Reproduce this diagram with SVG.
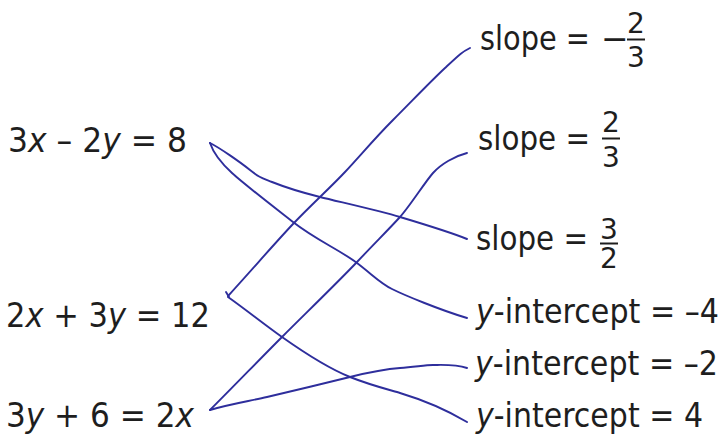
<svg xmlns="http://www.w3.org/2000/svg" width="724" height="434" viewBox="0 0 724 434">
<style>
text{font-family:"DejaVu Sans","Verdana",sans-serif;fill:#1e1e1e;font-size:33px}
.i{font-style:italic}
.f{font-size:28px;text-anchor:middle}
.bar{stroke:#1e1e1e;stroke-width:2}
.ink{fill:none;stroke:#2e2e9c;stroke-width:1.9;stroke-linecap:round;stroke-linejoin:round}
</style>
<rect width="724" height="434" fill="#fff"/>
<g id="eq1"><text x="8" y="152" textLength="179" lengthAdjust="spacingAndGlyphs">3<tspan class="i">x</tspan> – 2<tspan class="i">y</tspan> = 8</text></g>
<g id="eq2"><text x="6" y="327" textLength="204" lengthAdjust="spacingAndGlyphs">2<tspan class="i">x</tspan> + 3<tspan class="i">y</tspan> = 12</text></g>
<g id="eq3"><text x="6" y="427" textLength="188" lengthAdjust="spacingAndGlyphs">3<tspan class="i">y</tspan> + 6 = 2<tspan class="i">x</tspan></text></g>
<g id="s1"><text x="480" y="50" textLength="110" lengthAdjust="spacingAndGlyphs">slope =</text><text x="601" y="50">−</text><text class="f" x="636" y="33">2</text><line class="bar" x1="627" y1="39.5" x2="645" y2="39.5"/><text class="f" x="636" y="67">3</text></g>
<g id="s2"><text x="478" y="150" textLength="112" lengthAdjust="spacingAndGlyphs">slope =</text><text class="f" x="611" y="132">2</text><line class="bar" x1="602" y1="138.5" x2="620" y2="138.5"/><text class="f" x="611" y="167">3</text></g>
<g id="s3"><text x="476" y="250" textLength="112" lengthAdjust="spacingAndGlyphs">slope =</text><text class="f" x="609" y="239">3</text><line class="bar" x1="600" y1="243.5" x2="618" y2="243.5"/><text class="f" x="609" y="268">2</text></g>
<g id="y1"><text x="476" y="323" textLength="243" lengthAdjust="spacingAndGlyphs"><tspan class="i">y</tspan>-intercept = –4</text></g>
<g id="y2"><text x="475" y="375" textLength="243" lengthAdjust="spacingAndGlyphs"><tspan class="i">y</tspan>-intercept = –2</text></g>
<g id="y3"><text x="476" y="427" textLength="227" lengthAdjust="spacingAndGlyphs"><tspan class="i">y</tspan>-intercept = 4</text></g>
<g id="connectors" class="ink">
<path d="M210,143 C220,148 240,162 250,170 S262,178 272,182 S300,192 320,197 S380,211 400,217 S450,232 467,239"/>
<path d="M210,143 C213,152 220,162 232,173 S270,204 293,222 S340,250 357,263 S380,283 392,289 S440,310 467,318"/>
<path d="M228,296 C250,272 275,243 293,224 S330,188 345,172 S375,138 393,120 S430,82 445,68 S462,52 470,48"/>
<path d="M226,292 L229,297"/>
<path d="M228,297 C245,309 265,325 282,337 S330,369 350,377 S390,390 400,393 S440,406 467,422"/>
<path d="M210,410 C235,385 260,359 282,337 S340,280 357,262 S390,228 400,217 S425,182 433,173 S455,156 467,153"/>
<path d="M210,410 C230,404 250,401 267,397 S330,382 350,377 S385,369 400,368 S425,365 433,365 S455,364 467,368"/>
</g>
</svg>
